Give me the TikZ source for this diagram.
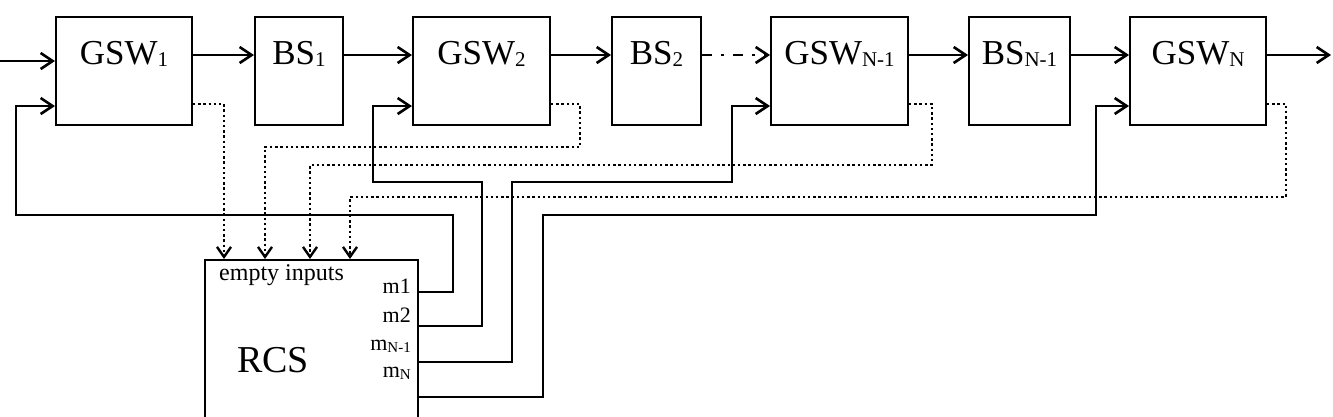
\documentclass[tikz,border=0pt]{standalone}
\usepackage{fontspec}
\setmainfont{Liberation Serif}
\usetikzlibrary{arrows.meta}
\newcommand{\lsub}[1]{{\fontsize{21}{21}\selectfont\raisebox{-2pt}{#1}}}
\newcommand{\msub}[1]{{\fontsize{15}{15}\selectfont\raisebox{-2pt}{#1}}}
\begin{document}
\begin{tikzpicture}[x=1pt,y=-1pt,
  box/.style={draw,line width=2pt,inner sep=0pt,minimum height=108pt},
  lbl/.style={font=\fontsize{35}{35}\selectfont,anchor=base,inner sep=0pt},
  mlbl/.style={font=\fontsize{22}{22}\selectfont,anchor=base east,inner sep=0pt},
  conn/.style={line width=2.6pt,line join=miter,-{Straight Barb[length=12pt,width=16pt,line width=2.6pt]}},
  dots/.style={line width=2.4pt,dash pattern=on 2.4pt off 2.8pt,-{Straight Barb[length=10pt,width=14pt,line width=2.4pt]}},
  dashdot/.style={line width=2.6pt,dash pattern=on 10pt off 9pt on 3pt off 9pt,-{Straight Barb[length=12pt,width=16pt,line width=2.6pt]}}]
\useasboundingbox (0,0) rectangle (1333,416);
\clip (0,0) rectangle (1333,416);
% boxes
\node[box,minimum width=136pt] (gsw1) at (124,71) {};
\node[box,minimum width=88pt] (bs1) at (299,71) {};
\node[box,minimum width=137pt] (gsw2) at (481.5,71) {};
\node[box,minimum width=89pt] (bs2) at (656.5,71) {};
\node[box,minimum width=137pt] (gswn1) at (839.5,71) {};
\node[box,minimum width=101pt] (bsn1) at (1019.5,71) {};
\node[box,minimum width=136pt] (gswn) at (1198,71) {};
\node[box,minimum width=213pt,minimum height=200pt] (rcs) at (311.5,360) {};
% labels
\node[lbl] (tgsw1) at ([yshift=-48pt]gsw1.north) {GSW\lsub{1}};
\node[lbl] (tbs1) at ([yshift=-48pt]bs1.north) {BS\lsub{1}};
\node[lbl] (tgsw2) at ([yshift=-48pt]gsw2.north) {GSW\lsub{2}};
\node[lbl] (tbs2) at ([yshift=-48pt]bs2.north) {BS\lsub{2}};
\node[lbl] (tgswn1) at ([yshift=-48pt]gswn1.north) {GSW\lsub{N-1}};
\node[lbl] (tbsn1) at ([yshift=-48pt]bsn1.north) {BS\lsub{N-1}};
\node[lbl] (tgswn) at ([yshift=-48pt]gswn.north) {GSW\lsub{N}};
\node[font=\fontsize{24}{24}\selectfont,anchor=base west,inner sep=0pt] (empty) at (219,280) {empty inputs};
\node[font=\fontsize{38}{38}\selectfont,anchor=base,inner sep=0pt] (trcs) at (273,372) {RCS};
\node[mlbl] (m1) at (411,293) {m1};
\node[mlbl] (m2) at (411,322) {m2};
\node[mlbl] (mn1) at (411,350) {m\msub{N-1}};
\node[mlbl] (mn) at (411,377) {m\msub{N}};
% main chain
\coordinate (in) at (0,61);
\coordinate (out) at (1331,55);
\draw[conn] (in) -- (in -| gsw1.west);
\draw[conn] ([yshift=16pt]gsw1.east) -- ([yshift=16pt]bs1.west);
\draw[conn] ([yshift=16pt]bs1.east) -- ([yshift=16pt]gsw2.west);
\draw[conn] ([yshift=16pt]gsw2.east) -- ([yshift=16pt]bs2.west);
\draw[dashdot] ([yshift=16pt]bs2.east) -- ([yshift=16pt]gswn1.west);
\draw[conn] ([yshift=16pt]gswn1.east) -- ([yshift=16pt]bsn1.west);
\draw[conn] ([yshift=16pt]bsn1.east) -- ([yshift=16pt]gswn.west);
\draw[conn] ([yshift=16pt]gswn.east) -- (out);
% dotted status lines to RCS
\draw[dots] ([yshift=-33pt]gsw1.east) -| ([xshift=-87.5pt]rcs.north);
\draw[dots] ([yshift=-33pt]gsw2.east) -| (580,147) -| ([xshift=-46.5pt]rcs.north);
\draw[dots] ([yshift=-33pt]gswn1.east) -| (932,165) -| ([xshift=-1.5pt]rcs.north);
\draw[dots] ([yshift=-33pt]gswn.east) -| (1286,197) -| ([xshift=38.5pt]rcs.north);
% control lines from RCS
\draw[conn] ([yshift=68pt]rcs.east) -| (453,215) -| (16,106) -- ([yshift=-35pt]gsw1.west);
\draw[conn] ([yshift=34pt]rcs.east) -| (482,182) -| (373,106) -- ([yshift=-35pt]gsw2.west);
\draw[conn] ([yshift=-2pt]rcs.east) -| (512,182) -| (732,106) -- ([yshift=-35pt]gswn1.west);
\draw[conn] ([yshift=-37pt]rcs.east) -| (543,215) -| (1096,106) -- ([yshift=-35pt]gswn.west);
\end{tikzpicture}
\end{document}
